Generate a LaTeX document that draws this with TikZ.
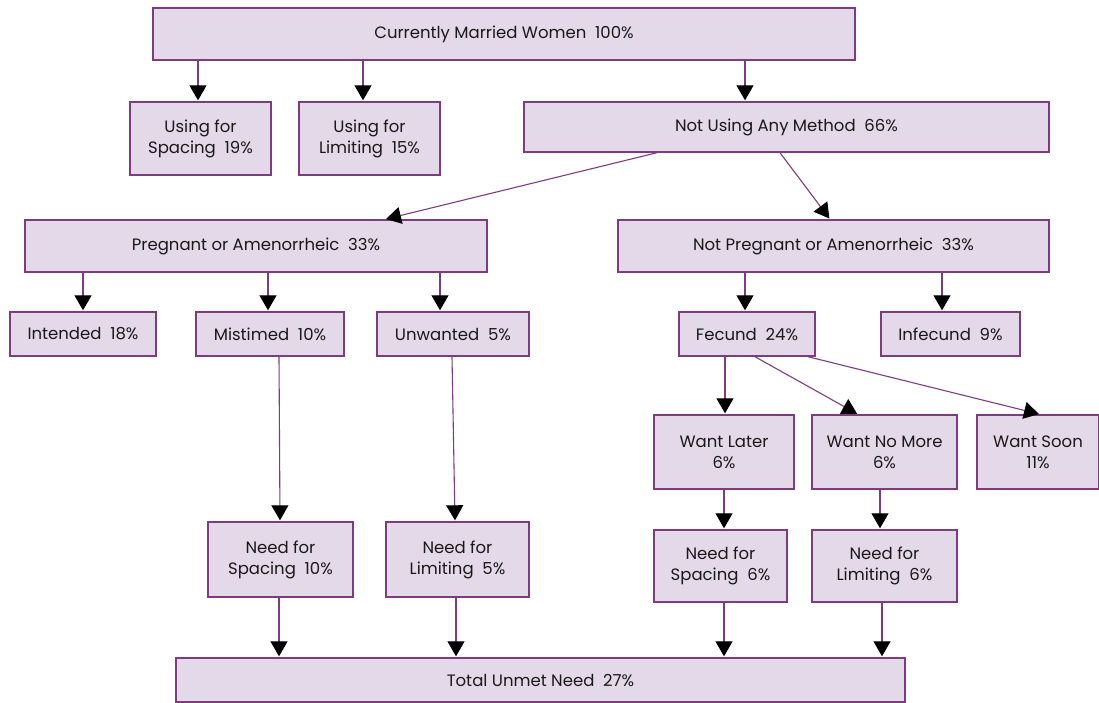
\documentclass[tikz,border=0pt]{standalone}
\usepackage{fontspec}
\setmainfont{Poppins}
\usetikzlibrary{arrows.meta}
\definecolor{boxfill}{RGB}{228,217,232}
\definecolor{boxline}{RGB}{125,60,128}
\tikzset{
  box/.style={draw=boxline, fill=boxfill, line width=1.4pt, inner sep=0pt,
    align=center, font=\fontsize{16.5}{21}\selectfont, text=black!90},
  arr/.style={draw=boxline, line width=1.1pt,
    -{Triangle[length=15pt,width=17pt,black]}, shorten >=1pt}
}
\newcommand{\bx}[6]{% name, x1, y1, x2, y2, text
  \node[box, minimum width={(#4-#2)*1pt}, minimum height={(#5-#3)*1pt}]
    (#1) at ({(#2+#4)/2},{(#3+#5)/2}) {#6};}
\begin{document}
\begin{tikzpicture}[x=1pt,y=-1pt]
\useasboundingbox (0,0) rectangle (1099,702);
\bx{top}{153}{8}{855}{60}{Currently Married Women~~100\%}
\bx{uspc}{130}{102}{271}{175}{Using for\\Spacing~~19\%}
\bx{ulim}{299}{102}{440}{175}{Using for\\Limiting~~15\%}
\bx{notuse}{524}{102}{1049}{152}{Not Using Any Method~~66\%}
\bx{preg}{25}{220}{487}{272}{Pregnant or Amenorrheic~~33\%}
\bx{npreg}{618}{220}{1049}{272}{Not Pregnant or Amenorrheic~~33\%}
\bx{intend}{10}{312}{156}{356}{Intended~~18\%}
\bx{mist}{196}{312}{344}{356}{Mistimed~~10\%}
\bx{unw}{377}{312}{529}{356}{Unwanted~~5\%}
\bx{fec}{679}{312}{815}{356}{Fecund~~24\%}
\bx{infec}{881}{312}{1020}{356}{Infecund~~9\%}
\bx{wlater}{654}{415}{794}{489}{Want Later\\6\%}
\bx{wnomore}{812}{415}{957}{489}{Want No More\\6\%}
\bx{wsoon}{977}{415}{1099}{489}{Want Soon\\11\%}
\bx{nspa}{208}{522}{353}{597}{Need for\\Spacing~~10\%}
\bx{nlima}{386}{522}{529}{597}{Need for\\Limiting~~5\%}
\bx{nspb}{654}{530}{787}{602}{Need for\\Spacing~~6\%}
\bx{nlimb}{812}{530}{957}{602}{Need for\\Limiting~~6\%}
\bx{total}{176}{658}{905}{702}{Total Unmet Need~~27\%}

\draw[arr] (top.south -| 198,0) -- (uspc.north -| 198,0);
\draw[arr] (top.south -| 363,0) -- (ulim.north -| 363,0);
\draw[arr] (top.south -| 745,0) -- (notuse.north -| 745,0);
\draw[arr] (notuse.south -| 657,0) -- (preg.north -| 385,0);
\draw[arr] (notuse.south -| 780,0) -- (npreg.north -| 830,0);
\draw[arr] (preg.south -| 83,0) -- (intend.north -| 83,0);
\draw[arr] (preg.south -| 268,0) -- (mist.north -| 268,0);
\draw[arr] (preg.south -| 440,0) -- (unw.north -| 440,0);
\draw[arr] (npreg.south -| 745,0) -- (fec.north -| 745,0);
\draw[arr] (npreg.south -| 942,0) -- (infec.north -| 942,0);
\draw[arr] (fec.south -| 725,0) -- (wlater.north -| 725,0);
\draw[arr] (fec.south -| 755,0) -- (wnomore.north -| 858,0);
\draw[arr] (fec.south -| 808,0) -- (wsoon.north -| 1040,0);
\draw[arr] (mist.south -| 279,0) -- (nspa.north -| 280,0);
\draw[arr] (unw.south -| 452,0) -- (nlima.north -| 455,0);
\draw[arr] (wlater.south -| 724,0) -- (nspb.north -| 724,0);
\draw[arr] (wnomore.south -| 880,0) -- (nlimb.north -| 880,0);
\draw[arr] (nspa.south -| 279,0) -- (total.north -| 279,0);
\draw[arr] (nlima.south -| 456,0) -- (total.north -| 456,0);
\draw[arr] (nspb.south -| 724,0) -- (total.north -| 724,0);
\draw[arr] (nlimb.south -| 882,0) -- (total.north -| 882,0);
\end{tikzpicture}
\end{document}
